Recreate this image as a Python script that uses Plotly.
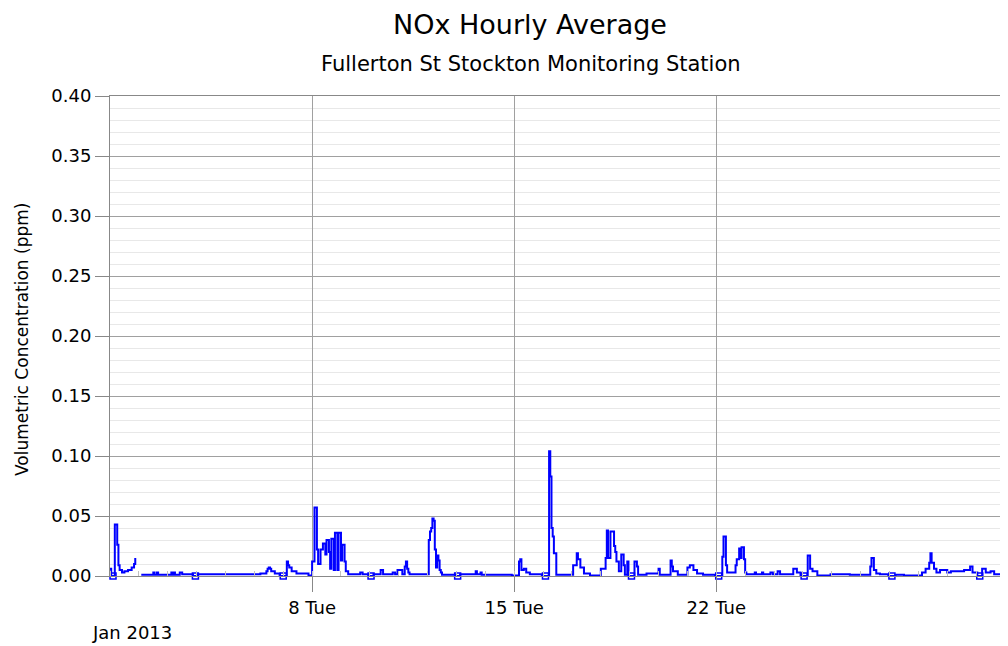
import numpy as np
import pandas as pd
import plotly.graph_objects as go

# ---- data ----
# hourly NOx record, given as change points: hour offset from 2013-01-01 00:00 -> value (ppm)
change_hours = [
    0, 1, 4, 6, 7, 8, 10, 12, 15, 18, 20, 21, 22, 26,
    36, 37, 39, 40, 51, 52, 53, 54, 58, 60, 69, 73,
    125, 130, 131, 132, 133, 134, 137, 141, 147, 148, 149, 151, 155, 165,
    168, 170, 172, 173, 175, 177, 179, 180, 182, 183, 184, 186, 187, 189,
    190, 192, 193, 195, 196, 198, 208, 210, 215, 219, 225, 227, 235, 237,
    239, 243, 245, 246, 247, 248, 249,
    265, 266, 267, 268, 269, 270, 271, 272, 273, 274, 275, 276,
    287, 291, 304, 305, 308, 309, 334, 340, 341, 342, 344, 346, 349, 359,
    365, 366, 367, 368, 369, 371,
    385, 388, 389, 391, 394, 399, 408, 412, 413, 414, 416, 419, 420, 421,
    423, 425, 427, 428, 430, 431, 436, 438, 439, 446, 456, 457, 466, 467,
    468, 472, 480, 482, 485, 488, 493, 503,
    509, 510, 512, 513, 520, 521, 523, 524, 525, 527, 528, 529, 536, 537,
    542, 543, 549, 551, 555, 557, 568, 571, 574, 580, 582, 584, 588, 599,
    615, 632, 633, 635, 637, 640, 647, 653, 660, 675, 678, 681, 682, 683,
    685, 687, 690, 696, 699, 710, 715, 717, 721, 725, 728, 732, 735,
]
change_values = [
    0.006, 0.0, 0.043, 0.026, 0.009, 0.005, 0.003, 0.004, 0.005, 0.007, 0.010, 0.015, None, 0.001,
    0.003, 0.001, 0.003, 0.001, 0.003, 0.001, 0.003, 0.001, 0.003, 0.0015, 0.0, 0.0015,
    0.002, 0.004, 0.006, 0.007, 0.006, 0.004, 0.002, 0.0, 0.012, 0.009, 0.007, 0.004, 0.002, 0.0005,
    0.012, 0.057, 0.022, 0.010, 0.022, 0.027, 0.018, 0.030, 0.020, 0.006, 0.031, 0.005, 0.036, 0.005,
    0.036, 0.013, 0.026, 0.012, 0.004, 0.0015, 0.003, 0.0015, 0.0, 0.0015, 0.005, 0.0015, 0.003, 0.0015,
    0.005, 0.0015, 0.008, 0.012, 0.006, 0.003, 0.0015,
    0.030, 0.037, 0.040, 0.048, 0.046, 0.022, 0.007, 0.017, 0.013, 0.005, 0.003, 0.001,
    0.0, 0.0015, 0.004, 0.0015, 0.003, 0.001, 0.0005, 0.012, 0.014, 0.005, 0.006, 0.003, 0.0015, 0.0,
    0.104, 0.083, 0.040, 0.033, 0.019, 0.001,
    0.009, 0.019, 0.014, 0.007, 0.002, 0.0005, 0.006, 0.015, 0.038, 0.015, 0.037, 0.025, 0.020, 0.012,
    0.004, 0.018, 0.009, 0.001, 0.012, 0.0, 0.012, 0.008, 0.001, 0.002, 0.006, 0.001, 0.013, 0.008,
    0.004, 0.001, 0.007, 0.009, 0.005, 0.002, 0.001, 0.0,
    0.016, 0.033, 0.009, 0.003, 0.009, 0.014, 0.023, 0.015, 0.024, 0.014, 0.003, 0.0015, 0.003, 0.0015,
    0.003, 0.0015, 0.003, 0.0015, 0.004, 0.0015, 0.006, 0.003, 0.0, 0.017, 0.006, 0.004, 0.0005, 0.0015,
    0.001, 0.008, 0.015, 0.005, 0.002, 0.0015, 0.0, 0.001, 0.0005, 0.003, 0.006, 0.011, 0.019, 0.011,
    0.006, 0.003, 0.005, 0.003, 0.004, 0.005, 0.008, 0.003, 0.0, 0.006, 0.003, 0.004, 0.0015,
]
total_hours = 744  # Jan 2013
start = pd.Timestamp("2013-01-01 00:00")
end = pd.Timestamp("2013-02-01 00:00")

major_tick_dates = ["2013-01-08", "2013-01-15", "2013-01-22"]
major_tick_text = ["8 Tue", "15 Tue", "22 Tue"]
y_tick_vals = [0.00, 0.05, 0.10, 0.15, 0.20, 0.25, 0.30, 0.35, 0.40]

# ---- expand change points to an hourly series ----
hourly = np.full(total_hours + 1, np.nan)
bounds = change_hours + [total_hours + 1]
for i, v in enumerate(change_values):
    hourly[bounds[i]:bounds[i + 1]] = np.nan if v is None else v
times = start + pd.to_timedelta(np.arange(total_hours + 1), unit="h")

# zero readings are flagged with an open square at the middle of each zero run
zero_x, zero_y = [], []
h = 0
while h <= total_hours:
    if hourly[h] == 0.0:
        s = h
        while h <= total_hours and hourly[h] == 0.0:
            h += 1
        mid = (s + h) / 2.0
        zero_x.append(start + pd.Timedelta(hours=mid))
        zero_y.append(0.0)
    else:
        h += 1

FONT = "DejaVu Sans, Liberation Sans, Arial, sans-serif"

# the page body has an 8px margin; size the figure so it fills the 1008x646 window
OFF = 8
W, H = 1008 - OFF, 646 - OFF
L, R, T, B = 110 - OFF, 3, 96 - OFF, 70
PW, PH = W - L - R, H - T - B


def px_x(x):  # window pixel x -> paper coordinate
    return (x - OFF - L) / PW


def px_y(y):  # window pixel y -> paper coordinate
    return (H - B - (y - OFF)) / PH


fig = go.Figure()
fig.add_trace(go.Scatter(
    x=times, y=hourly, mode="lines", line=dict(color="#0000ff", width=2, shape="hv"),
    connectgaps=False, showlegend=False, hoverinfo="x+y",
))
fig.add_trace(go.Scatter(
    x=zero_x, y=zero_y, mode="markers",
    marker=dict(symbol="square-open", size=6, color="#0000ff", line=dict(width=1.5, color="#0000ff")),
    showlegend=False, cliponaxis=False,
))

fig.update_layout(
    width=W, height=H,
    margin=dict(l=L, r=R, t=T, b=B),
    paper_bgcolor="white", plot_bgcolor="white",
    font=dict(family=FONT, color="#000000", size=18),
    title=dict(text="NOx Hourly Average", x=(530 - OFF) / W, xanchor="center",
               y=1 - (25 - OFF) / H, yanchor="middle", font=dict(size=27, family=FONT, color="#000")),
    xaxis=dict(
        range=[start, end], type="date",
        tickmode="array", tickvals=major_tick_dates, ticktext=major_tick_text,
        ticks="outside", ticklen=15, tickcolor="#888888", tickwidth=1,
        showgrid=True, gridcolor="#a0a0a0", gridwidth=1,
        showline=True, linecolor="#888888", linewidth=1, mirror=True,
        zeroline=False,
        tickfont=dict(size=18, family=FONT, color="#000"),
        minor=dict(tickmode="linear", tick0="2013-01-01", dtick=86400000,
                   ticks="inside", ticklen=5, tickcolor="#c0c0c0", showgrid=False),
    ),
    yaxis=dict(
        range=[0, 0.40], tickmode="array", tickvals=y_tick_vals,
        tickformat=".2f",
        ticks="outside", ticklen=14, tickcolor="#888888",
        showgrid=True, gridcolor="#a0a0a0", gridwidth=1,
        showline=True, linecolor="#888888", linewidth=1, mirror=True,
        zeroline=False,
        tickfont=dict(size=18, family=FONT, color="#000"),
        minor=dict(dtick=0.01, showgrid=True, gridcolor="#e8e8e8", gridwidth=1, ticks=""),
    ),
    annotations=[
        dict(text="Fullerton St Stockton Monitoring Station", xref="paper", yref="paper",
             x=px_x(531), y=px_y(64), xanchor="center", yanchor="middle",
             showarrow=False, font=dict(size=21, family=FONT, color="#000")),
        dict(text="Volumetric Concentration (ppm)", xref="paper", yref="paper",
             x=px_x(22), y=px_y(340), xanchor="center", yanchor="middle",
             textangle=-90, showarrow=False, font=dict(size=17, family=FONT, color="#000")),
        dict(text="Jan 2013", xref="paper", yref="paper",
             x=px_x(90), y=px_y(632), xanchor="left", yanchor="middle",
             showarrow=False, font=dict(size=18, family=FONT, color="#000")),
    ],
    shapes=[
        dict(type="line", xref="paper", yref="paper", x0=1, x1=1, y0=0, y1=1,
             line=dict(color="#666666", width=2)),
    ],
)

fig.write_html("out.html")
